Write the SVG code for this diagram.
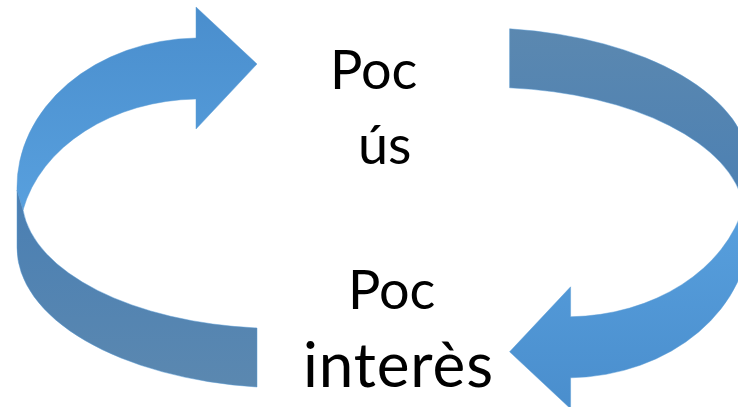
<svg xmlns="http://www.w3.org/2000/svg" width="738" height="407" viewBox="0 0 738 407">
  <defs>
    <linearGradient id="gLight" gradientUnits="userSpaceOnUse" x1="0" y1="7" x2="0" y2="215">
      <stop offset="0" stop-color="#4a8ecd"/>
      <stop offset="1" stop-color="#58a0de"/>
    </linearGradient>
    <linearGradient id="gDark" gradientUnits="userSpaceOnUse" x1="0" y1="190" x2="0" y2="388">
      <stop offset="0" stop-color="#4a7fb3"/>
      <stop offset="1" stop-color="#5b88b0"/>
    </linearGradient>
    <g id="curvedArrow">
      <path fill="url(#gLight)" stroke="#5b9bd5" stroke-width="0.8" stroke-opacity="0.6" d="M196,38 L196,7 L257,64 L196,129 L196,99 A181,141 0 0 0 23,210 L17,190 A183,149 0 0 1 196,38 Z"/>
      <path fill="url(#gDark)" stroke="#5b9bd5" stroke-width="0.8" stroke-opacity="0.6" d="M17,190 L23,210 A258,130 0 0 0 257,328 L257,387 A273,140 0 0 1 17,247 Z"/>
    </g>
  </defs>
  <style>
    .lbl { font-family: Lato, "Liberation Sans", sans-serif; font-size: 54px; fill: #000000; }
    .big { font-size: 62px; }
  </style>
  <rect width="738" height="407" fill="#ffffff"/>
  <g id="connectors">
    <use id="arrow-left" href="#curvedArrow"/>
    <use id="arrow-right" href="#curvedArrow" transform="rotate(180 383.3 207.9)"/>
  </g>
  <g id="node-poc-us">
    <text class="lbl" x="330" y="89">Poc</text>
    <text class="lbl" x="358" y="163.5">ús</text>
  </g>
  <g id="node-poc-interes">
    <text class="lbl" x="348" y="308.5">Poc</text>
    <text class="lbl big" x="303" y="386.5" textLength="190" lengthAdjust="spacing">interès</text>
  </g>
</svg>
